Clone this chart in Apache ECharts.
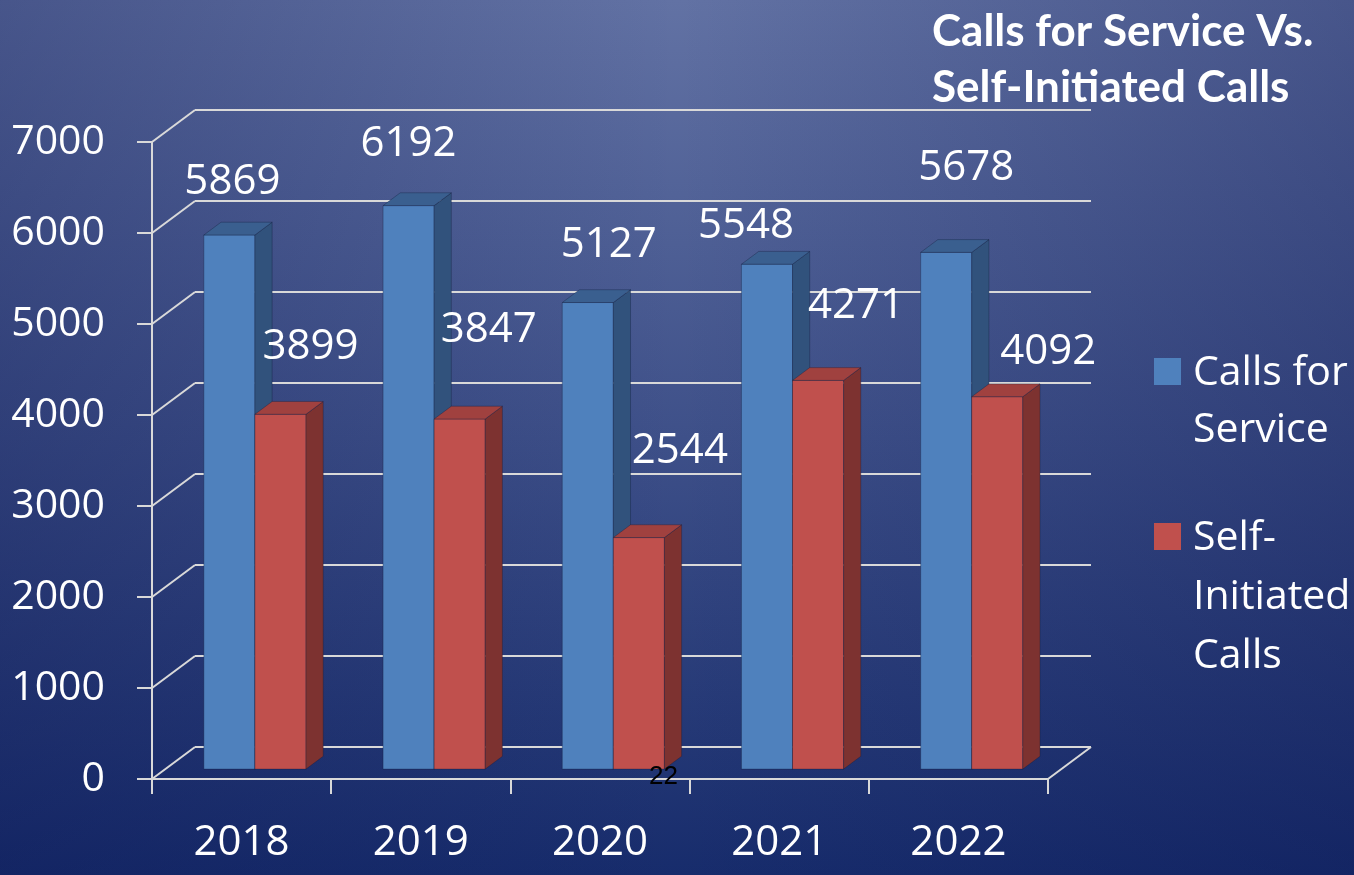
<!DOCTYPE html>
<html>
<head>
<meta charset="utf-8">
<title>Calls for Service Vs. Self-Initiated Calls</title>
<script src="https://cdn.jsdelivr.net/npm/echarts@6/dist/echarts.min.js"></script>
<style>
  html, body { margin: 0; padding: 0; }
  #chart { width: 1354px; height: 875px; }
</style>
</head>
<body>
<div id="chart"></div>
<script>
  // data
  var years = ['2018', '2019', '2020', '2021', '2022'];
  var callsForService = [5869, 6192, 5127, 5548, 5678];
  var selfInitiated = [3899, 3847, 2544, 4271, 4092];
  var yTicks = [0, 1000, 2000, 3000, 4000, 5000, 6000, 7000];

  // fake 3d: offset of the back wall, and where the bars sit in depth
  var DEPTH = [43, -32];
  var BAR_FRONT = 0.31;
  var BAR_BACK = 0.71;
  var BAR_W = 0.285;
  var LINE = '#d9d9d9';
  var FONT = 'Open Sans';

  // label shifts (px) from the top of each bar, the way the slide placed them
  var shiftService = [[3, -53], [0, -62], [21, -57], [-21, -38], [20, -84]];
  var shiftSelf = [[30, -67], [29, -89], [41, -87], [38, -74], [51, -45]];

  var faces = [
    { front: '#4f81bd', side: '#31527c', top: '#3a5f8f' },
    { front: '#c0504d', side: '#7d3230', top: '#a0413f' }
  ];

  function barRender(k, shifts) {
    return function (params, api) {
      var cat = api.value(0), val = api.value(1);
      var base = api.coord([cat, 0]);
      var top = api.coord([cat, val]);
      var w = api.size([1, 0])[0] * BAR_W;
      var ox = DEPTH[0] * BAR_FRONT, oy = DEPTH[1] * BAR_FRONT;
      var dx = DEPTH[0] * (BAR_BACK - BAR_FRONT), dy = DEPTH[1] * (BAR_BACK - BAR_FRONT);
      var x0 = base[0] + ox - (k === 0 ? w : 0);
      var x1 = x0 + w;
      var yb = base[1] + oy, yt = top[1] + oy;
      var c = faces[k];
      var edge = 'rgba(20,30,60,0.35)';
      var sh = shifts[params.dataIndex];
      return {
        type: 'group',
        children: [
          { type: 'polygon', shape: { points: [[x0, yb], [x1, yb], [x1, yt], [x0, yt]] },
            style: { fill: c.front, stroke: edge, lineWidth: 1 } },
          { type: 'polygon', shape: { points: [[x1, yb], [x1, yt], [x1 + dx, yt + dy], [x1 + dx, yb + dy]] },
            style: { fill: c.side, stroke: edge, lineWidth: 1 } },
          { type: 'polygon', shape: { points: [[x0, yt], [x1, yt], [x1 + dx, yt + dy], [x0 + dx, yt + dy]] },
            style: { fill: c.top, stroke: edge, lineWidth: 1 } },
          { type: 'text', z2: 10,
            style: { text: String(val), x: (x0 + x1) / 2 + sh[0], y: yt + sh[1],
              fill: '#ffffff', fontSize: 42, fontFamily: FONT,
              align: 'center', verticalAlign: 'middle' } }
        ]
      };
    };
  }

  function wallRender(params, api) {
    var cs = params.coordSys;
    var v = api.value(1);
    var y = api.coord([0, v])[1];
    var xl = cs.x, xr = cs.x + cs.width;
    var kids = [
      { type: 'line', shape: { x1: xl, y1: y, x2: xl + DEPTH[0], y2: y + DEPTH[1] },
        style: { stroke: LINE, lineWidth: 2 } },
      { type: 'line', shape: { x1: xl + DEPTH[0], y1: y + DEPTH[1], x2: xr + DEPTH[0], y2: y + DEPTH[1] },
        style: { stroke: LINE, lineWidth: 2 } }
    ];
    if (v === 0) {
      kids.push({ type: 'line', shape: { x1: xr, y1: y, x2: xr + DEPTH[0], y2: y + DEPTH[1] },
        style: { stroke: LINE, lineWidth: 2 } });
    }
    return { type: 'group', children: kids };
  }

  var myChart = echarts.init(document.getElementById('chart'));

  var option = {
    animation: false,
    backgroundColor: new echarts.graphic.LinearGradient(0, 0, 0, 1, [
      { offset: 0, color: '#6272a4' },
      { offset: 0.5, color: '#3e5089' },
      { offset: 1, color: '#172c6c' }
    ]),
    title: {
      text: 'Calls for Service Vs.\nSelf-Initiated Calls',
      left: 932,
      top: 4,
      padding: 0,
      textStyle: {
        color: '#ffffff',
        fontFamily: 'Lato',
        fontWeight: 'bold',
        fontSize: 44,
        lineHeight: 56
      }
    },
    grid: {
      left: 152,
      top: 142,
      width: 896,
      height: 637
    },
    xAxis: {
      type: 'category',
      data: years,
      boundaryGap: true,
      axisLine: { lineStyle: { color: LINE, width: 2 } },
      axisTick: { show: true, length: 15, lineStyle: { color: LINE, width: 2 } },
      axisLabel: { color: '#ffffff', fontSize: 42, fontFamily: FONT, margin: 43 }
    },
    yAxis: {
      type: 'value',
      min: 0,
      max: 7000,
      interval: 1000,
      axisLine: { show: true, lineStyle: { color: LINE, width: 2 } },
      axisTick: { show: true, length: 15, lineStyle: { color: LINE, width: 2 } },
      splitLine: { show: false },
      axisLabel: {
        color: '#ffffff', fontSize: 41, fontFamily: FONT, margin: 47,
        formatter: function (v) { return String(v); }
      }
    },
    series: [
      {
        name: 'wall',
        type: 'custom',
        z: 1,
        silent: true,
        renderItem: wallRender,
        data: yTicks.map(function (v) { return [0, v]; })
      },
      {
        name: 'Calls for Service',
        type: 'custom',
        z: 2,
        renderItem: barRender(0, shiftService),
        data: callsForService.map(function (v, i) { return [i, v]; })
      },
      {
        name: 'Self-Initiated Calls',
        type: 'custom',
        z: 3,
        renderItem: barRender(1, shiftSelf),
        data: selfInitiated.map(function (v, i) { return [i, v]; })
      }
    ],
    graphic: [
      // darker sides, the slide background is lighter in the middle
      { type: 'rect', left: 0, top: 0, z: -10, silent: true,
        shape: { width: 1354, height: 875 },
        style: { fill: new echarts.graphic.LinearGradient(0, 0, 1, 0, [
          { offset: 0, color: 'rgba(10,20,80,0.3)' },
          { offset: 0.5, color: 'rgba(10,20,80,0)' },
          { offset: 1, color: 'rgba(10,20,80,0.3)' }
        ]) } },
      { type: 'rect', left: 1154, top: 358, shape: { width: 27, height: 27 }, style: { fill: faces[0].front } },
      { type: 'text', left: 1193, top: 345,
        style: { text: 'Calls for\nService', fill: '#ffffff', fontSize: 41, fontFamily: FONT, lineHeight: 57 } },
      { type: 'rect', left: 1154, top: 523, shape: { width: 27, height: 27 }, style: { fill: faces[1].front } },
      { type: 'text', left: 1193, top: 509,
        style: { text: 'Self-\nInitiated\nCalls', fill: '#ffffff', fontSize: 41, fontFamily: FONT, lineHeight: 59 } },
      { type: 'text', left: 649, top: 764, z: 100,
        style: { text: '22', fill: '#000000', fontSize: 26, fontFamily: 'Liberation Sans' } }
    ]
  };
  myChart.setOption(option);
</script>
</body>
</html>
